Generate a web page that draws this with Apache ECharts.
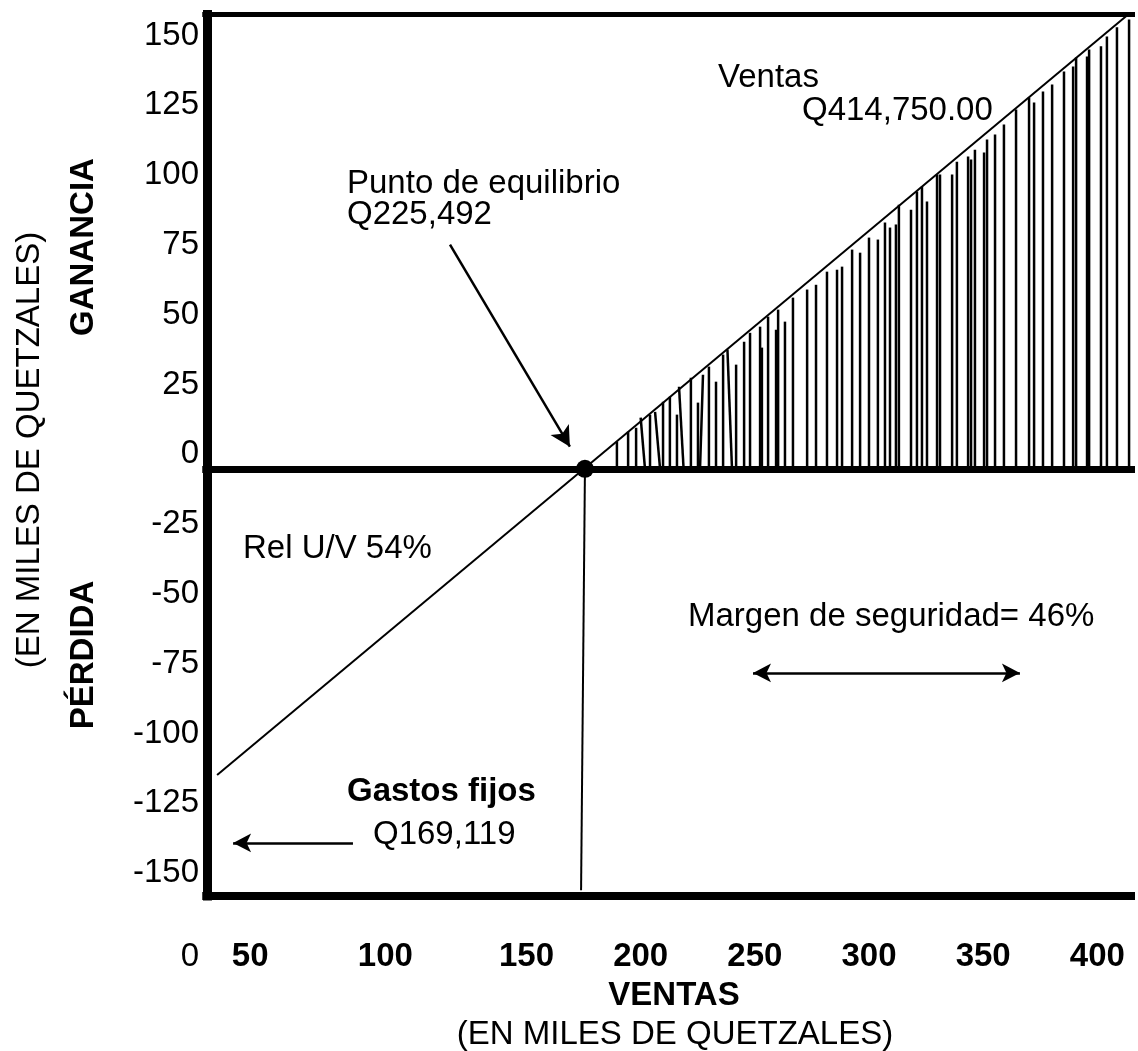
<!DOCTYPE html>
<html><head><meta charset="utf-8">
<script src="https://cdn.jsdelivr.net/npm/echarts@6/dist/echarts.min.js"></script>
<style>html,body{margin:0;padding:0;background:#fff}#c{width:1138px;height:1051px}</style>
</head><body><div id="c"></div>
<script>
// ---- data (thousands of quetzales) ----
const xTickValues = [0, 50, 100, 150, 200, 250, 300, 350, 400];
const xTickLabels = ['0', '50', '100', '150', '200', '250', '300', '350', '400'];
const yTickValues = [-150, -125, -100, -75, -50, -25, 0, 25, 50, 75, 100, 125, 150];
const yTickLabels = ['-150', '-125', '-100', '-75', '-50', '-25', '0', '25', '50', '75', '100', '125', '150'];
const profitLine = [[14.5, -109.7], [413.5, 162.7]];
const breakEvenPoint = [175.6, 0];
const breakEvenDrop = [[175.6, 0], [173.9, -150.9]];
const hatchBaseX = [189.6,194.5,198.0,201.9,204.1,208.5,209.8,212.8,215.9,218.8,222.0,225.1,226.0,229.9,233.0,236.1,240.0,241.8,245.3,247.9,252.3,253.1,255.8,259.3,260.2,263.2,266.7,272.9,276.8,281.6,286.0,288.2,292.6,296.1,300.0,303.9,307.0,309.2,311.8,313.1,318.4,321.0,323.2,325.4,329.8,331.1,336.4,338.5,343.4,344.7,346.4,350.4,351.7,355.2,359.1,364.4,370.1,372.3,376.2,380.2,385.4,389.4,390.7,395.5,396.4,401.6,404.2,408.6,413.9];
const hatchTipX  = [189.6,194.5,198.0,200.0,204.1,206.3,209.8,212.8,215.9,216.8,222.0,225.1,227.3,229.9,233.0,236.1,238.0,241.8,245.3,247.9,252.3,253.1,255.8,259.3,260.2,263.2,266.7,272.9,276.8,281.6,286.0,288.2,292.6,296.1,300.0,303.9,307.0,309.2,311.8,313.1,318.4,321.0,323.2,325.4,329.8,331.1,336.4,338.5,343.4,344.7,346.4,350.4,351.7,355.2,359.1,364.4,370.1,372.3,376.2,380.2,385.4,389.4,390.7,395.5,396.4,401.6,404.2,408.6,413.9];
const hatchTopY  = [9.7,13.3,14.7,18.3,19.4,20.4,24.0,25.8,19.4,29.4,32.6,23.7,33.7,36.6,31.2,40.9,42.7,37.3,45.5,48.7,50.9,43.4,54.5,49.8,57.0,52.7,61.3,64.2,65.9,70.6,71.3,72.4,78.5,77.4,82.8,82.1,88.2,86.4,87.5,94.6,92.8,99.3,101.1,95.7,105.4,105.4,105.4,110.0,111.8,110.8,114.3,113.3,117.9,119.7,123.3,128.7,133.0,131.2,135.1,137.6,142.3,144.1,147.3,147.7,150.2,151.3,154.8,158.1,160.9];

// ---- layout constants ----
const X_MIN = 0, X_MAX = 416.5, Y_MIN = -153, Y_MAX = 162.7, FRAME_LEFT = 8;
const FONT = '"Liberation Sans", Arial, sans-serif';
const FS = 33;

const hatchData = hatchBaseX.map((x, i) => [x, hatchTipX[i], hatchTopY[i]]);

const labelStyle = {
  '0':   { style: 'n', pad: [0, 0, 0, 12] },
  '50':  { style: 'b', pad: [0, 96, 0, 0] },
  '100': { style: 'b', pad: [0, 54, 0, 0] }
};

const chart = echarts.init(document.getElementById('c'), null, { renderer: 'canvas' });

function txt(text, x, y, opts) {
  opts = opts || {};
  return {
    type: 'text', x: x, y: y, rotation: opts.rot || 0, silent: true,
    style: {
      text: text, fill: '#000', fontFamily: FONT, fontSize: opts.size || FS,
      fontWeight: opts.bold ? 'bold' : 'normal',
      align: opts.align || 'left', verticalAlign: 'middle'
    }
  };
}

const frameLine = { color: '#000', type: 'solid' };

chart.setOption({
  animation: false,
  backgroundColor: '#fff',
  grid: { left: 184, right: 3, top: 14.5, bottom: 155, containLabel: false },
  xAxis: {
    type: 'value', min: X_MIN, max: X_MAX,
    axisLine: { show: false }, axisTick: { show: false }, splitLine: { show: false },
    axisLabel: {
      customValues: xTickValues, showMinLabel: true, showMaxLabel: true,
      margin: 44,
      formatter: function (v) {
        const i = xTickValues.indexOf(v);
        const t = i >= 0 ? xTickLabels[i] : '';
        const s = labelStyle[t];
        if (s && s.style === 'n') return '{n0|' + t + '}';
        if (t === '50') return '{b50|' + t + '}';
        if (t === '100') return '{b100|' + t + '}';
        return '{b|' + t + '}';
      },
      rich: {
        n0: { fontSize: FS, fontFamily: FONT, color: '#000', padding: labelStyle['0'].pad },
        b: { fontSize: FS, fontFamily: FONT, fontWeight: 'bold', color: '#000' },
        b50: { fontSize: FS, fontFamily: FONT, fontWeight: 'bold', color: '#000', padding: labelStyle['50'].pad },
        b100: { fontSize: FS, fontFamily: FONT, fontWeight: 'bold', color: '#000', padding: labelStyle['100'].pad }
      }
    }
  },
  yAxis: {
    type: 'value', min: Y_MIN, max: Y_MAX, offset: -23,
    axisLine: { show: true, onZero: false, lineStyle: { color: '#000', width: 9, cap: 'square' } },
    axisTick: { show: false }, splitLine: { show: false },
    axisLabel: {
      customValues: yTickValues, margin: 8, color: '#000', fontSize: FS, fontFamily: FONT,
      verticalAlign: 'bottom', lineHeight: 29,
      formatter: function (v) { const i = yTickValues.indexOf(v); return i >= 0 ? yTickLabels[i] : ''; }
    }
  },
  graphic: [
    txt('GANANCIA', 84, 247, { rot: Math.PI / 2, bold: true, align: 'center' }),
    txt('PÉRDIDA', 84, 655, { rot: Math.PI / 2, bold: true, align: 'center' }),
    txt('(EN MILES DE QUETZALES)', 30, 450, { rot: Math.PI / 2, align: 'center' }),
    txt('Punto de equilibrio', 347, 184),
    txt('Q225,492', 347, 215),
    txt('Ventas', 718, 78),
    txt('Q414,750.00', 802, 111),
    txt('Rel U/V 54%', 243, 549),
    txt('Margen de seguridad= 46%', 688, 617),
    txt('Gastos fijos', 347, 792, { bold: true }),
    txt('Q169,119', 373, 835),
    txt('VENTAS', 674, 996, { bold: true, align: 'center' }),
    txt('(EN MILES DE QUETZALES)', 675, 1035, { align: 'center' })
  ],
  series: [
    {
      type: 'custom', name: 'hatch', clip: false, silent: true,
      data: hatchData,
      encode: { x: 0, y: 2 },
      renderItem: function (params, api) {
        const b = api.coord([api.value(0), 0]);
        const t = api.coord([api.value(1), api.value(2)]);
        return { type: 'line', shape: { x1: b[0], y1: b[1], x2: t[0], y2: t[1] },
                 style: { stroke: '#000', lineWidth: 2.5 } };
      }
    },
    {
      type: 'line', name: 'Ventas', data: profitLine, symbol: 'none', clip: false, silent: true,
      lineStyle: { color: '#000', width: 2 },
      markLine: {
        silent: true, symbol: ['none', 'none'], label: { show: false },
        lineStyle: frameLine,
        data: [
          [{ coord: [FRAME_LEFT, Y_MAX], lineStyle: { width: 5, color: '#000', type: 'solid' } }, { coord: [X_MAX, Y_MAX] }],
          [{ coord: [FRAME_LEFT, Y_MIN], lineStyle: { width: 8, color: '#000', type: 'solid' } }, { coord: [X_MAX, Y_MIN] }],
          [{ coord: [FRAME_LEFT, 0], lineStyle: { width: 7, color: '#000', type: 'solid' } }, { coord: [X_MAX, 0] }],
          [{ coord: [116.5, 80.3], symbol: 'none', lineStyle: { width: 2.5, color: '#000', type: 'solid' } },
           { coord: [169.0, 7.9], symbol: 'arrow', symbolSize: [16, 20] }],
          [{ coord: [74.0, -134.0], symbol: 'none', lineStyle: { width: 2.5, color: '#000', type: 'solid' } },
           { coord: [21.5, -134.0], symbol: 'arrow', symbolSize: [14, 18] }],
          [{ coord: [249.2, -73.1], symbol: 'arrow', symbolSize: [14, 18], lineStyle: { width: 2.5, color: '#000', type: 'solid' } },
           { coord: [366.1, -73.1], symbol: 'arrow', symbolSize: [14, 18] }]
        ]
      }
    },
    {
      type: 'line', name: 'drop', data: breakEvenDrop, symbol: 'none', clip: false, silent: true,
      lineStyle: { color: '#000', width: 2 }
    },
    {
      type: 'scatter', name: 'Punto de equilibrio', data: [breakEvenPoint], symbol: 'circle',
      symbolSize: 18, itemStyle: { color: '#000', opacity: 1 }, z: 10, silent: true
    }
  ]
});
</script></body></html>
